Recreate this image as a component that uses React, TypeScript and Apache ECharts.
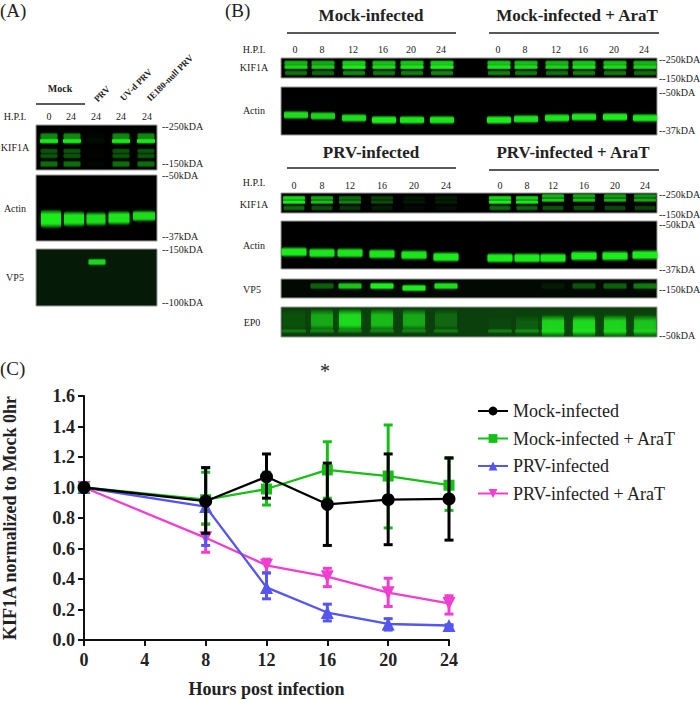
import React, { useEffect, useRef } from "react";
import * as echarts from "echarts";

const SERIF = "'Liberation Serif', 'Times New Roman', serif";

// ---- chart values ----
const hours = [0, 8, 12, 16, 20, 24];
const mockInfected = [1.0, 0.91, 1.07, 0.89, 0.92, 0.925];
const mockLow = [1.0, 0.7, 0.93, 0.62, 0.625, 0.655];
const mockHigh = [1.0, 1.13, 1.22, 1.16, 1.22, 1.195];
const mockArat = [1.0, 0.92, 0.99, 1.115, 1.075, 1.015];
const mockAratLow = [0.98, 0.76, 0.885, 0.93, 0.735, 0.85];
const mockAratHigh = [1.02, 1.1, 1.1, 1.3, 1.41, 1.19];
const prvInfected = [1.0, 0.875, 0.345, 0.18, 0.105, 0.095];
const prvLow = [1.0, 0.62, 0.27, 0.125, 0.065, 0.09];
const prvHigh = [1.0, 1.13, 0.44, 0.235, 0.14, 0.1];
const prvArat = [1.0, 0.67, 0.49, 0.415, 0.31, 0.24];
const prvAratLow = [1.0, 0.575, 0.44, 0.35, 0.22, 0.17];
const prvAratHigh = [1.0, 0.76, 0.53, 0.47, 0.405, 0.29];
const legendNames = ["Mock-infected", "Mock-infected + AraT", "PRV-infected", "PRV-infected + AraT"];
const xTicksHours = 4;

// ---- blot labels and relative band strengths (0-1) ----
const hpiA = ["0", "24", "24", "24", "24"];
const hpiB = ["0", "8", "12", "16", "20", "24", "0", "8", "12", "16", "20", "24"];
const kifA = [1, 1, 0.06, 1, 1];
const actinA = [1, 0.95, 0.9, 0.95, 0.9];
const kifMock = [0.85, 0.8, 1, 0.9, 0.95, 1, 0.95, 0.9, 0.85, 0.95, 0.9, 0.85];
const actinMock = [0.9, 0.85, 0.9, 1, 0.95, 0.95, 1, 0.95, 0.95, 0.95, 1, 0.95];
const kifPrv = [1, 0.75, 0.5, 0.3, 0.1, 0.13, 1, 0.95, 0.8, 0.75, 0.7, 0.65];
const actinPrv = [1, 0.95, 0.95, 0.95, 0.95, 1, 1, 1, 1, 1, 1, 1];
const vp5Prv = [0, 0.35, 0.75, 1, 1, 0.9, 0, 0, 0.08, 0.3, 0.35, 0.45];
const ep0Prv = [0.1, 0.55, 0.85, 0.65, 0.55, 0.22, 0.04, 0.16, 0.8, 0.85, 0.8, 0.7];

// ---- blot layout ----
const lanesA = [49, 72, 96, 121, 146];
const lanesMock = [296, 323, 354, 384, 412, 442, 499, 526, 557, 584, 615, 645];
const lanesPrv = [294, 322, 350, 382, 414, 446, 500, 527, 553, 584, 615, 645];
const actinMockY = [115, 116, 118, 120, 120, 120, 120, 119, 118, 117, 117, 118];
const actinPrvY = [252, 253, 253, 254, 255, 257, 258, 258, 258, 256, 256, 255];

const txt = (text: string, x: number, y: number, size = 10, bold = false, rotation = 0, align = "center") => ({
  type: "text", x, y, rotation, silent: true,
  style: {
    text, fill: "#222",
    font: `${bold ? "bold " : ""}${size}px ${SERIF}`,
    textAlign: align, textVerticalAlign: "middle",
  },
});
const panel = (x0: number, y0: number, x1: number, y1: number, fill = "#000") => ({
  type: "rect", silent: true,
  shape: { x: x0, y: y0, width: x1 - x0, height: y1 - y0 },
  style: { fill, stroke: "#9a9a9a", lineWidth: 1 },
});
const band = (cx: number, y: number, w: number, h: number, a: number, blur = 2) => {
  const c = (k: number) => `rgba(30,235,30,${k})`;
  return {
    type: "rect", silent: true,
    shape: { x: cx - w / 2, y: y - h * 0.75, width: w, height: h * 1.5, r: Math.min(h / 2, 3) },
    style: {
      fill: new echarts.graphic.LinearGradient(0, 0, 0, 1, [
        { offset: 0, color: c(0) },
        { offset: 0.28, color: c(a) },
        { offset: 0.72, color: c(a) },
        { offset: 1, color: c(0) },
      ]),
      shadowBlur: blur, shadowColor: c(a * 0.5),
    },
  };
};
const rule = (x1: number, x2: number, y: number) => ({
  type: "line", silent: true,
  shape: { x1, y1: y, x2, y2: y },
  style: { stroke: "#222", lineWidth: 1.5 },
});

function blots(): any[] {
  const g: any[] = [];
  // Panel A
  g.push(txt("(A)", 0, 10, 19, false, 0, "left"));
  g.push(txt("Mock", 60, 88, 10, true), rule(36, 85, 104));
  g.push(txt("PRV", 102, 94, 9, true, Math.PI / 4));
  g.push(txt("UV-d PRV", 136, 85, 9, true, Math.PI / 4));
  g.push(txt("IE180-null PRV", 170, 78, 9, true, Math.PI / 4));
  g.push(txt("H.P.I.", 15, 116));
  hpiA.forEach((t, i) => g.push(txt(t, [49, 71, 96, 121, 147][i], 116)));
  g.push(txt("KIF1A", 15, 147), txt("Actin", 15, 208), txt("VP5", 15, 277));
  g.push(panel(36, 125, 157, 170));
  kifA.forEach((s, i) => {
    const cx = lanesA[i];
    g.push(band(cx, 136, 17, 5, 0.5 * s), band(cx, 141, 18, 4, 0.95 * s));
    g.push(band(cx, 151, 17, 4, 0.32 * s), band(cx, 156, 17, 4, 0.32 * s), band(cx, 164, 17, 5, 0.42 * s));
  });
  g.push(panel(36, 175, 157, 241));
  actinA.forEach((s, i) => g.push(band([51, 74, 96, 119, 144][i], [219, 219, 219, 218, 216][i], [20, 20, 19, 21, 22][i], [13, 11, 10, 10, 8][i], s, 3)));
  g.push(panel(36, 249, 157, 306, "#051a07"));
  g.push(band(97, 262, 17, 5, 0.85));
  [["--250kDA", 126], ["--150kDA", 163], ["--50kDA", 175], ["--37kDA", 236], ["--150kDA", 249], ["--100kDA", 302]]
    .forEach(([t, y]) => g.push(txt(t as string, 162, y as number, 10, false, 0, "left")));

  // Panel B headers
  g.push(txt("(B)", 225, 10, 19, false, 0, "left"));
  g.push(txt("Mock-infected", 371, 15, 17, true), txt("Mock-infected + AraT", 577, 15, 17, true));
  g.push(rule(287, 456, 33), rule(489, 659, 33));
  g.push(txt("PRV-infected", 371, 152, 17, true), txt("PRV-infected + AraT", 573, 152, 17, true));
  g.push(rule(287, 456, 168), rule(489, 659, 170));
  g.push(txt("H.P.I.", 254, 49), txt("H.P.I.", 254, 182));
  hpiB.forEach((t, i) => {
    g.push(txt(t, lanesMock[i] - 1, 49), txt(t, lanesPrv[i], 185));
  });
  g.push(txt("KIF1A", 254, 67), txt("Actin", 254, 110), txt("KIF1A", 254, 204), txt("Actin", 254, 245), txt("VP5", 252, 289), txt("EP0", 252, 322));

  // Mock KIF1A / actin
  g.push(panel(281, 58, 657, 78));
  kifMock.forEach((s, i) => {
    const cx = lanesMock[i];
    g.push(band(cx, 63, 23, 4, 0.8 * s), band(cx, 67, 23, 3.5, s), band(cx, 73, 22, 4, 0.5 * s));
  });
  g.push(panel(281, 87, 657, 135));
  actinMock.forEach((s, i) => g.push(band(lanesMock[i], actinMockY[i], 24, 6, s)));
  // PRV panels
  g.push(panel(281, 193, 657, 213));
  kifPrv.forEach((s, i) => {
    const cx = lanesPrv[i];
    const dy = i > 7 ? -2 : 0;
    g.push(band(cx, 198 + dy, 22, 3.5, 0.85 * s), band(cx, 202 + dy, 22, 3, s), band(cx, 208, 21, 4, 0.4 * s));
  });
  g.push(panel(281, 221, 657, 269));
  actinPrv.forEach((s, i) => g.push(band(lanesPrv[i], actinPrvY[i], 25, 7, s)));
  g.push(panel(281, 279, 657, 298, "#020802"));
  vp5Prv.forEach((s, i) => {
    if (s > 0) g.push(band(lanesPrv[i], i === 4 ? 288 : 286, 23, 5, s));
  });
  g.push(panel(281, 307, 657, 337, "#0b3f0c"));
  ep0Prv.forEach((s, i) => {
    const y = i < 6 ? 320 : 326;
    g.push(band(lanesPrv[i], y, 22, 15, s, 5));
    g.push(band(lanesPrv[i], 331, 24, 3, 0.3, 2));
  });
  [["--250kDA", 59], ["--150kDA", 78], ["--50kDA", 92], ["--37kDA", 130], ["--250kDA", 194], ["--150kDA", 214], ["--50kDA", 224], ["--37kDA", 269], ["--150kDA", 289], ["--50kDA", 335]]
    .forEach(([t, y]) => g.push(txt(t as string, 659, y as number, 10, false, 0, "left")));

  // Panel C markers
  g.push(txt("(C)", 0, 368, 19, false, 0, "left"));
  g.push(txt("*", 325, 371, 20));
  return g;
}

const triDown = "path://M0 0 L10 0 L5 10 Z";

function errorSeries(name: string, color: string, low: number[], high: number[], z: number) {
  return {
    type: "custom", name: name + " error", z, silent: true, clip: false,
    data: hours.map((h, i) => [h, low[i], high[i]]),
    encode: { x: 0, y: [1, 2] },
    renderItem: (_: any, api: any) => {
      const lo = api.coord([api.value(0), api.value(1)]);
      const hi = api.coord([api.value(0), api.value(2)]);
      const style = { stroke: color, lineWidth: 3, fill: "none" };
      const cap = 4.5;
      const line = (x1: number, y1: number, x2: number, y2: number) => ({
        type: "line", shape: { x1, y1, x2, y2 }, style,
      });
      return {
        type: "group",
        children: [
          line(lo[0], lo[1], hi[0], hi[1]),
          line(lo[0] - cap, lo[1], lo[0] + cap, lo[1]),
          line(hi[0] - cap, hi[1], hi[0] + cap, hi[1]),
        ],
      };
    },
  };
}
function lineSeries(name: string, color: string, values: number[], symbol: string, size: number, z: number) {
  return {
    type: "line", name, z, clip: false, symbol, symbolSize: size, showSymbol: true,
    data: hours.map((h, i) => [h, values[i]]),
    lineStyle: { color, width: 2.3 },
    itemStyle: { color },
  };
}

export default function App() {
  const ref = useRef<HTMLDivElement>(null);
  useEffect(() => {
    const chart = echarts.init(ref.current!, undefined, { renderer: "svg" });
    const axisText = { color: "#222", fontFamily: SERIF, fontWeight: "bold" as const, fontSize: 18 };
    chart.setOption({
      animation: false,
      backgroundColor: "#fff",
      graphic: blots(),
      legend: {
        data: legendNames, orient: "vertical", left: 472, top: 397,
        itemWidth: 30, itemHeight: 11, itemGap: 9.5,
        textStyle: { fontFamily: SERIF, fontSize: 18, color: "#222" },
      },
      grid: { left: 84, right: 251, top: 396, bottom: 61, outerBoundsMode: "none" },
      xAxis: {
        type: "value", min: 0, max: 24, interval: xTicksHours,
        name: "Hours post infection", nameLocation: "middle", nameGap: 40,
        nameTextStyle: { ...axisText },
        axisLine: { lineStyle: { color: "#111", width: 2 } },
        axisTick: { length: 6, lineStyle: { color: "#111", width: 2 } },
        axisLabel: { ...axisText, margin: 11 },
        splitLine: { show: false },
      },
      yAxis: {
        type: "value", min: 0, max: 1.6, interval: 0.2,
        name: "KIF1A normalized to Mock 0hr", nameLocation: "middle", nameGap: 65,
        nameTextStyle: { ...axisText },
        axisLine: { show: true, lineStyle: { color: "#111", width: 2 } },
        axisTick: { show: true, length: 6, lineStyle: { color: "#111", width: 2 } },
        axisLabel: { ...axisText, margin: 9, formatter: (v: number) => v.toFixed(1) },
        splitLine: { show: false },
      },
      series: [
        errorSeries(legendNames[3], "#F03FD0", prvAratLow, prvAratHigh, 2),
        lineSeries(legendNames[3], "#F03FD0", prvArat, triDown, 13, 3),
        errorSeries(legendNames[2], "#5555F0", prvLow, prvHigh, 4),
        lineSeries(legendNames[2], "#5555F0", prvInfected, "triangle", 13, 5),
        errorSeries(legendNames[1], "#14C014", mockAratLow, mockAratHigh, 6),
        lineSeries(legendNames[1], "#14C014", mockArat, "rect", 11, 7),
        errorSeries(legendNames[0], "#000", mockLow, mockHigh, 8),
        lineSeries(legendNames[0], "#000", mockInfected, "circle", 13, 9),
      ],
    });
    return () => chart.dispose();
  }, []);
  return <div ref={ref} style={{ position: "absolute", left: 0, top: 0, width: 700, height: 701 }} />;
}
